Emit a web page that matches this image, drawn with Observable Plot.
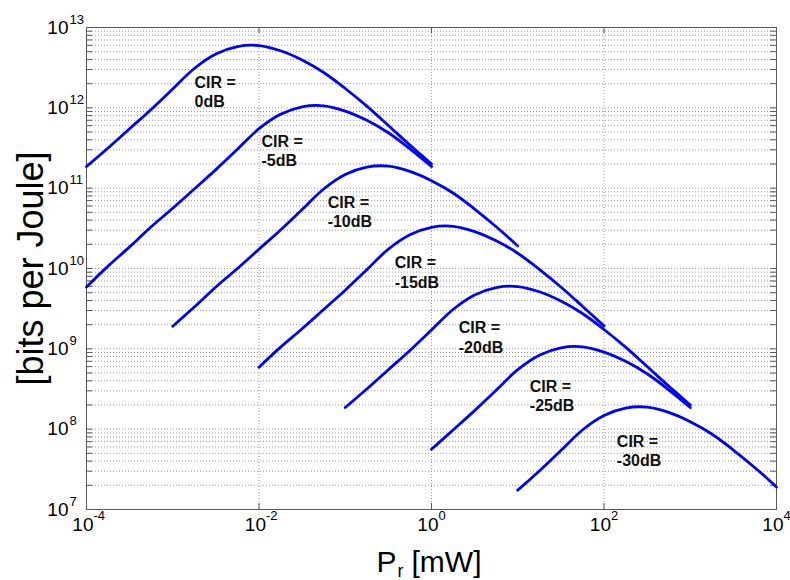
<!DOCTYPE html>
<html>
<head>
<meta charset="utf-8">
<script src="https://cdn.jsdelivr.net/npm/d3@7"></script>
<script src="https://cdn.jsdelivr.net/npm/@observablehq/plot@0.6"></script>
<style>
  html, body { margin: 0; padding: 0; background: #fff; }
</style>
</head>
<body>
<div id="chart"></div>
<script>
// ---- data ----
const cirLabels = ["0dB", "-5dB", "-10dB", "-15dB", "-20dB", "-25dB", "-30dB"];

// received power P_r [mW], quarter-decade samples
const prGrid = [1e-4, 1.778e-4, 3.162e-4, 5.623e-4, 1e-3, 1.778e-3, 3.162e-3, 5.623e-3,
  1e-2, 1.778e-2, 3.162e-2, 5.623e-2, 0.1, 0.1778, 0.3162, 0.5623,
  1, 1.778, 3.162, 5.623, 10, 17.78, 31.62, 56.23,
  100, 177.8, 316.2, 562.3, 1000, 1778, 3162, 5623, 10000];

// index in prGrid where each curve starts
const startIndex = [0, 0, 4, 8, 12, 16, 20];

// bits per Joule for each CIR curve
const bpj0dB = [1.86e11, 3.16e11, 5.50e11, 9.55e11, 1.72e12, 3.09e12, 4.68e12, 5.79e12, 5.96e12,
  5.13e12, 3.94e12, 2.75e12, 1.74e12, 1.05e12, 6.03e11, 3.43e11, 2.00e11];
const bpjM5dB = [5.89e9, 1.07e10, 1.86e10, 3.31e10, 5.62e10, 9.77e10, 1.70e11, 3.05e11, 5.50e11,
  8.32e11, 1.03e12, 1.06e12, 9.12e11, 7.00e11, 4.90e11, 3.09e11, 1.86e11];
const bpjM10dB = [1.91e9, 3.31e9, 5.89e9, 1.00e10, 1.74e10, 3.02e10, 5.43e10, 9.77e10, 1.48e11,
  1.83e11, 1.88e11, 1.62e11, 1.24e11, 8.71e10, 5.50e10, 3.31e10, 1.91e10];
const bpjM15dB = [5.89e8, 1.05e9, 1.78e9, 3.09e9, 5.37e9, 9.66e9, 1.74e10, 2.63e10, 3.26e10,
  3.35e10, 2.88e10, 2.21e10, 1.55e10, 9.77e9, 5.89e9, 3.39e9, 1.93e9];
const bpjM20dB = [1.86e8, 3.16e8, 5.50e8, 9.55e8, 1.72e9, 3.09e9, 4.68e9, 5.79e9, 5.96e9,
  5.13e9, 3.94e9, 2.75e9, 1.74e9, 1.05e9, 6.03e8, 3.43e8, 2.00e8];
const bpjM25dB = [5.62e7, 9.77e7, 1.70e8, 3.05e8, 5.50e8, 8.32e8, 1.03e9, 1.06e9, 9.12e8,
  7.00e8, 4.90e8, 3.09e8, 1.86e8];
const bpjM30dB = [1.74e7, 3.02e7, 5.43e7, 9.77e7, 1.48e8, 1.83e8, 1.88e8, 1.62e8, 1.24e8,
  8.71e7, 5.50e7, 3.31e7, 1.91e7];

// where each "CIR = ..." annotation sits (data coordinates)
const labelPr = [1.79e-3, 1.07e-2, 6.25e-2, 0.374, 2.07, 13.8, 141];
const labelBpj = [1.62e12, 2.95e11, 5.13e10, 9.08e9, 1.41e9, 2.62e8, 5.47e7];

// ticks
const xTicks = [1e-4, 1e-2, 1, 1e2, 1e4];
const xTickExp = ["-4", "-2", "0", "2", "4"];
const yTicks = [1e7, 1e8, 1e9, 1e10, 1e11, 1e12, 1e13];
const yTickExp = ["7", "8", "9", "10", "11", "12", "13"];

// ---- build table ----
const curves = [bpj0dB, bpjM5dB, bpjM10dB, bpjM15dB, bpjM20dB, bpjM25dB, bpjM30dB];
const rows = [];
curves.forEach((ys, k) => ys.forEach((v, i) =>
  rows.push({cir: cirLabels[k], pr: prGrid[startIndex[k] + i], bpj: v})));
const labels = cirLabels.map((c, i) => ({cir: c, pr: labelPr[i], bpj: labelBpj[i]}));

const yMinor = [];
for (let e = 7; e < 13; e++) for (let m = 2; m <= 9; m++) yMinor.push(m * 10 ** e);

const W = 790, H = 580, mL = 86, mR = 14, mT = 27, mB = 71;
const pxPerDecX = (W - mL - mR) / 8, pxPerDecY = (H - mT - mB) / 6;
const tx = 10 ** (6 / pxPerDecX), ty = 10 ** (6 / pxPerDecY);
const grid = {stroke: "#9a9a9a", strokeDasharray: "1,2", strokeWidth: 1};
const axisColor = "#5a5a5a";

const chart = Plot.plot({
  width: W, height: H,
  marginLeft: mL, marginRight: mR, marginTop: mT, marginBottom: mB,
  x: {type: "log", domain: [1e-4, 1e4], axis: null},
  y: {type: "log", domain: [1e7, 1e13], axis: null},
  style: {fontFamily: "'Liberation Sans', Arial, sans-serif", background: "#fff", color: "#000", overflow: "visible"},
  marks: [
    Plot.ruleY(yMinor, {y: d => d, ...grid}),
    Plot.ruleY(yTicks, {y: d => d, ...grid}),
    Plot.ruleX(xTicks.slice(1, -1), {x: d => d, ...grid}),
    // inward ticks
    Plot.ruleY(yTicks.concat(yMinor), {y: d => d, x1: () => 1e-4, x2: () => 1e-4 * tx, stroke: axisColor}),
    Plot.ruleY(yTicks.concat(yMinor), {y: d => d, x1: () => 1e4 / tx, x2: () => 1e4, stroke: axisColor}),
    Plot.ruleX(xTicks, {x: d => d, y1: () => 1e7, y2: () => 1e7 * ty, stroke: axisColor}),
    Plot.ruleX(xTicks, {x: d => d, y1: () => 1e13 / ty, y2: () => 1e13, stroke: axisColor}),
    Plot.frame({stroke: axisColor}),
    // curves
    Plot.line(rows, {x: "pr", y: "bpj", z: "cir", stroke: "#0000ff", strokeWidth: 2.8, curve: "catmull-rom"}),
    // annotations
    Plot.text(labels, {x: "pr", y: "bpj", text: d => "CIR =\n" + d.cir, textAnchor: "start",
      lineAnchor: "middle", lineHeight: 1.2, fontSize: 16, fontWeight: "bold", fill: "#111"}),
    // tick labels
    Plot.text(yTicks, {y: d => d, frameAnchor: "left", text: () => "10", textAnchor: "end", dx: -18, fontSize: 19}),
    Plot.text(yTicks, {y: d => d, frameAnchor: "left", text: (d, i) => yTickExp[i], textAnchor: "start", dx: -17, dy: -8, fontSize: 13}),
    Plot.text(xTicks, {x: d => d, frameAnchor: "bottom", text: () => "10", textAnchor: "end", dx: 7, dy: 21, fontSize: 19}),
    Plot.text(xTicks, {x: d => d, frameAnchor: "bottom", text: (d, i) => xTickExp[i], textAnchor: "start", dx: 7, dy: 10, fontSize: 13}),
    // axis titles
    Plot.text(["[bits per Joule]"], {frameAnchor: "left", text: d => d, rotate: -90, dx: -55, fontSize: 36, textAnchor: "middle"}),
    Plot.text(["P"], {frameAnchor: "bottom", text: d => d, textAnchor: "start", lineAnchor: "bottom", dx: -55, dy: 62, fontSize: 30}),
    Plot.text(["r"], {frameAnchor: "bottom", text: d => d, textAnchor: "start", lineAnchor: "bottom", dx: -34, dy: 67, fontSize: 18}),
    Plot.text(["[mW]"], {frameAnchor: "bottom", text: d => d, textAnchor: "start", lineAnchor: "bottom", dx: -20, dy: 62, fontSize: 30})
  ]
});
document.getElementById("chart").appendChild(chart);
</script>
</body>
</html>
